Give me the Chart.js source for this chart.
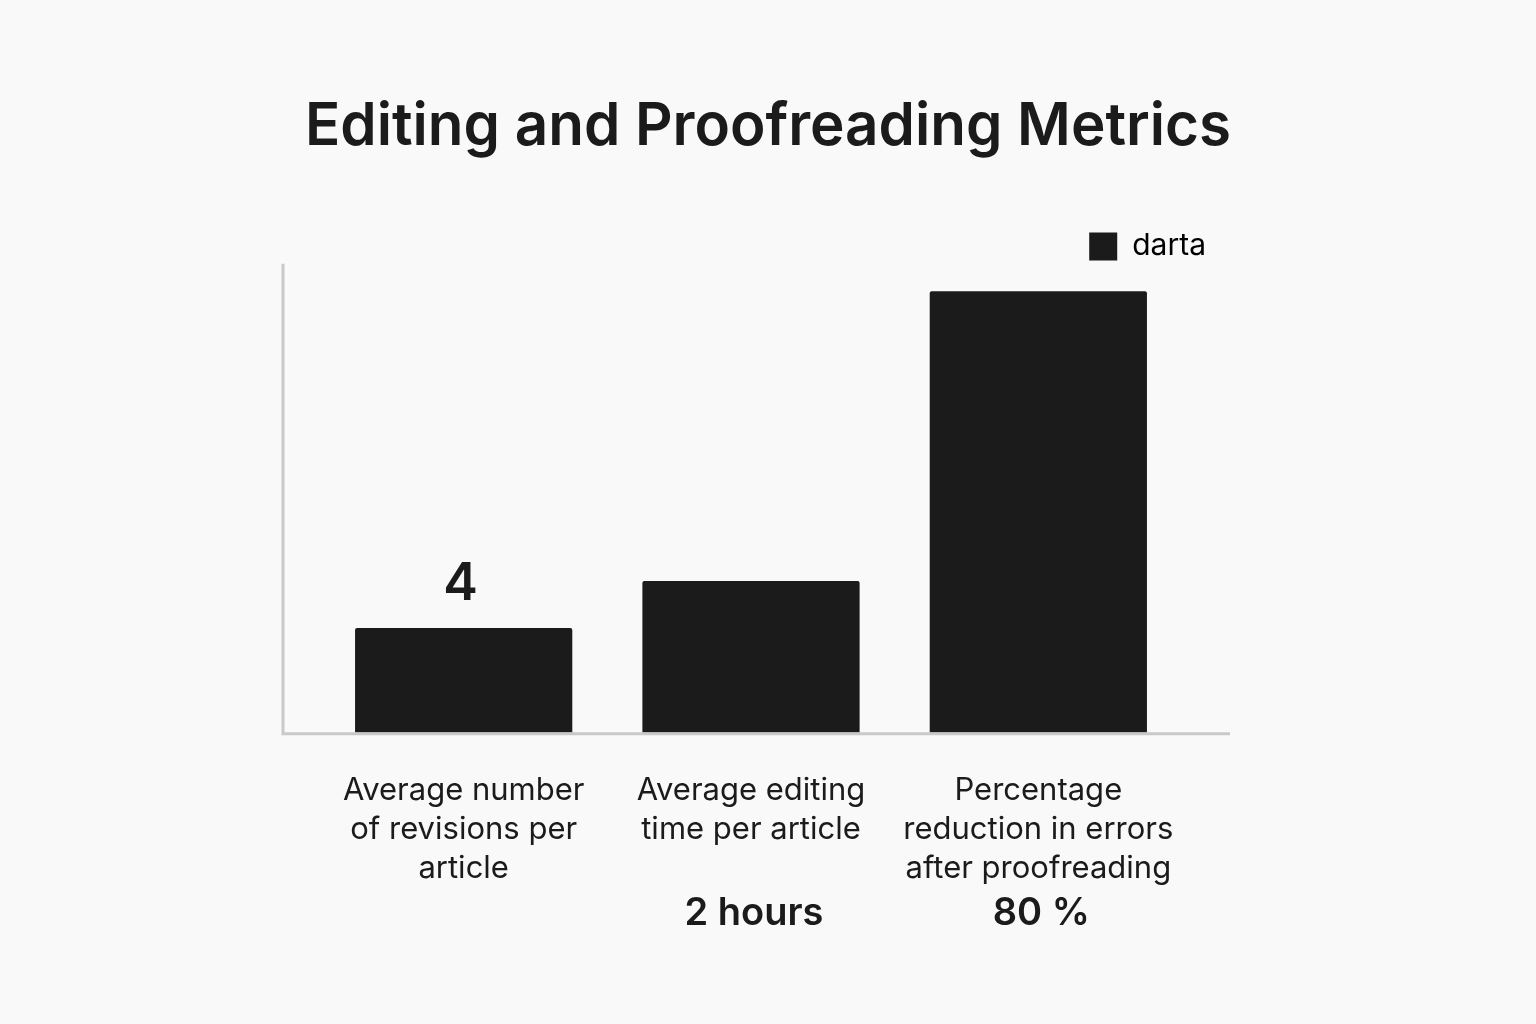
<!DOCTYPE html>
<html>
<head>
<meta charset="utf-8">
<script src="https://cdn.jsdelivr.net/npm/chart.js@4.4.1/dist/chart.umd.min.js"></script>
<style>
  html, body { margin: 0; padding: 0; background: #f9f9f9; }
  #wrap { width: 1536px; height: 1024px; }
</style>
</head>
<body>
<div id="wrap"><canvas id="myChart" width="1536" height="1024"></canvas></div>
<script>
// chart data
const categories = [
  ["Average number", "of revisions per", "article"],
  ["Average editing", "time per article"],
  ["Percentage", "reduction in errors", "after proofreading"]
];
const barValues = [19, 27.5, 80];
const valueLabels = ["4", "2 hours", "80 %"];
const labelSpots = ["above", "below", "below"];   // where each value text sits
const seriesName = "darta";
const yMax = 83.6;
const axisTop = 85;   // the drawn y axis line runs a bit past the plot

const ink = "#1b1b1b";
const axisGray = "#c9c9c9";

/* draws the two light axis lines and the value texts */
const extras = {
  id: "extras",
  afterDraw(chart) {
    const c = chart.ctx;
    const area = chart.chartArea;
    const y = chart.scales.y;
    const bars = chart.getDatasetMeta(0).data;

    c.save();
    c.strokeStyle = axisGray;
    c.lineWidth = 3;
    c.beginPath();
    c.moveTo(area.left - 37, y.getPixelForValue(axisTop));
    c.lineTo(area.left - 37, y.getPixelForValue(0) + 1);
    c.lineTo(area.right + 48, y.getPixelForValue(0) + 1);
    c.stroke();

    c.fillStyle = ink;
    c.textAlign = "center";
    c.textBaseline = "middle";
    bars.forEach((bar, i) => {
      if (labelSpots[i] == "above") {
        c.font = "600 52px Inter";
        c.fillText(valueLabels[i], bar.x - 3, bar.y - 44);
      } else {
        c.font = "600 38px Inter";
        c.fillText(valueLabels[i], bar.x + 3, bar.base + 181);
      }
    });
    c.restore();
  }
};

// empty axes used only to hold space beside the plot
function spacer(side, w) {
  return {
    position: side,
    display: true,
    grid: { display: false, drawTicks: false },
    border: { display: false },
    ticks: { display: false },
    afterFit(scale) { scale.width = w; }
  };
}

var ctx = document.getElementById("myChart").getContext("2d");
var myChart = new Chart(ctx, {
  type: "bar",
  data: {
    labels: categories,
    datasets: [
      {
        label: seriesName,
        data: barValues,
        backgroundColor: ink,
        borderColor: ink,
        borderWidth: 0,
        borderRadius: 2,
        categoryPercentage: 1,
        barPercentage: 0.756
      }
    ]
  },
  options: {
    responsive: false,
    animation: false,
    layout: { padding: { left: 305, right: 305, top: 0, bottom: 98 } },
    plugins: {
      tooltip: { enabled: false },
      title: {
        display: true,
        text: "Editing and Proofreading Metrics",
        color: ink,
        font: { family: "Inter", size: 59.5, weight: "600" },
        padding: { top: 91, bottom: 44 }
      },
      legend: {
        position: "top",
        align: "end",
        labels: {
          color: ink,
          font: { family: "Inter", size: 30 },
          boxWidth: 28,
          boxHeight: 28,
          padding: 25,
          generateLabels(chart) {
            return [{ text: seriesName, fillStyle: ink, strokeStyle: ink, lineWidth: 0, datasetIndex: 0 }];
          }
        }
      }
    },
    scales: {
      x: {
        grid: { display: false, drawTicks: false },
        border: { display: false },
        ticks: {
          color: ink,
          font: { family: "Inter", size: 31, lineHeight: 1.26 },
          padding: 38,
          maxRotation: 0
        }
      },
      y: {
        display: false,
        min: 0,
        max: yMax
      },
      padLeft: spacer("left", 15),
      padRight: spacer("right", 49)
    }
  },
  plugins: [extras]
});
</script>
</body>
</html>
